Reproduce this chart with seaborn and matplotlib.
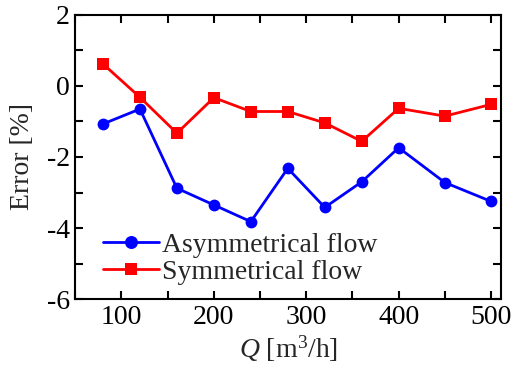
import numpy as np
import pandas as pd
import seaborn as sns
import matplotlib.pyplot as plt
from matplotlib.ticker import MultipleLocator

# data
q = [80, 120, 160, 200, 240, 280, 320, 360, 400, 450, 500]
err_asym = [-1.07, -0.65, -2.88, -3.35, -3.82, -2.32, -3.42, -2.70, -1.74, -2.72, -3.25]
err_sym = [0.62, -0.32, -1.33, -0.33, -0.72, -0.72, -1.04, -1.56, -0.63, -0.85, -0.52]
labels = ['Asymmetrical flow', 'Symmetrical flow']

df = pd.DataFrame({'Q': q * 2,
                   'Error': err_asym + err_sym,
                   'Case': [labels[0]] * len(q) + [labels[1]] * len(q)})

sns.set_style('ticks')
plt.rcParams['font.family'] = ['Liberation Serif', 'DejaVu Serif']
plt.rcParams['mathtext.fontset'] = 'custom'
plt.rcParams['mathtext.it'] = 'Liberation Serif:italic'
plt.rcParams['mathtext.rm'] = 'Liberation Serif'
plt.rcParams['axes.unicode_minus'] = False

fig, ax = plt.subplots(figsize=(5.12, 3.72), dpi=100)
sns.lineplot(data=df, x='Q', y='Error', hue='Case', style='Case',
             palette=['#0000ff', '#ff0000'], markers=['o', 's'], dashes=False,
             markersize=8.5, markeredgewidth=0, linewidth=2, ax=ax)

ax.set_xlim(50, 511)
ax.set_ylim(-6, 2)
ax.xaxis.set_major_locator(MultipleLocator(100))
ax.xaxis.set_minor_locator(MultipleLocator(50))
ax.yaxis.set_major_locator(MultipleLocator(2))
ax.yaxis.set_minor_locator(MultipleLocator(1))
ax.tick_params(which='both', direction='in', top=True, right=True, labelsize=20,
               width=1.5, colors='black')
ax.tick_params(which='major', length=6, pad=4)
ax.tick_params(which='minor', length=6)
for s in ax.spines.values():
    s.set_linewidth(1.5)
    s.set_color('black')

ax.set_xlabel('$Q$ [m$^3$/h]', fontsize=20, labelpad=3)
ax.set_ylabel('Error [%]', fontsize=20, labelpad=8)

ax.legend(loc='lower left', frameon=False, fontsize=20, handlelength=2.0,
          handletextpad=0.1, labelspacing=0.05, borderaxespad=0, borderpad=0,
          bbox_to_anchor=(0.066, 0.05), markerscale=1.1)

plt.subplots_adjust(left=0.147, right=0.979, top=0.96, bottom=0.196)
plt.savefig('out.png')
